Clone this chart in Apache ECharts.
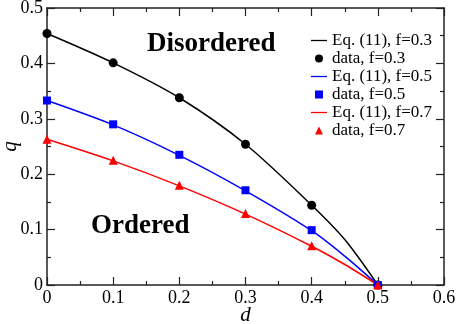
<!DOCTYPE html>
<html>
<head>
<meta charset="utf-8">
<script src="https://cdn.jsdelivr.net/npm/echarts@6/dist/echarts.min.js"></script>
<style>html,body{margin:0;padding:0;background:#fff}#c{width:457px;height:324px}</style>
</head>
<body>
<div id="c"></div>
<script>
// x ticks / y ticks
const xTicks = [0, 0.1, 0.2, 0.3, 0.4, 0.5, 0.6];
const yTicks = [0, 0.1, 0.2, 0.3, 0.4, 0.5];
// data points (d values)
const dData = [0, 0.1, 0.2, 0.3, 0.4, 0.5];
const qData03 = [0.454, 0.401, 0.338, 0.254, 0.144, 0];
const qData05 = [0.333, 0.290, 0.235, 0.171, 0.099, 0];
const qData07 = [0.263, 0.225, 0.180, 0.129, 0.071, 0];
// Eq. (11) curves
const dCurve = [0, 0.1, 0.2, 0.3, 0.4, 0.45, 0.5];
const qCurve03 = [0.454, 0.401, 0.338, 0.254, 0.144, 0.082, 0];
const qCurve05 = [0.333, 0.289, 0.234, 0.170, 0.098, 0.052, 0];
const qCurve07 = [0.263, 0.224, 0.179, 0.128, 0.070, 0.037, 0];
const names = ['Eq. (11), f=0.3', 'data, f=0.3', 'Eq. (11), f=0.5', 'data, f=0.5', 'Eq. (11), f=0.7', 'data, f=0.7'];
const colors = ['#000000', '#000000', '#0000ff', '#0000ff', '#ff0000', '#ff0000'];

const pair = (xs, ys) => xs.map((x, i) => [x, ys[i]]);
const serif = '"Liberation Serif", "DejaVu Serif", serif';

function axisCommon(show, pos) {
  return {
    position: pos,
    axisLine: { show: true, onZero: false, lineStyle: { color: '#222', width: 1.5 } },
    axisTick: { show: true, inside: true, length: 8, lineStyle: { color: '#222', width: 1.2 } },
    minorTick: { show: true, splitNumber: 2, length: 4, lineStyle: { color: '#222', width: 1.2 } },
    splitLine: { show: false },
    axisLabel: { show: show, color: '#000', fontFamily: serif, fontSize: 18, margin: 4 }
  };
}

const chart = echarts.init(document.getElementById('c'));
const lineSeries = (name, xs, ys, color) => ({
  name, type: 'line', data: pair(xs, ys), smooth: 0.3, showSymbol: false,
  lineStyle: { color, width: 1.5 }, itemStyle: { color }, xAxisIndex: 0, yAxisIndex: 0, z: 2
});
const dotSeries = (name, xs, ys, color, symbol, size) => ({
  name, type: 'scatter', data: pair(xs, ys), symbol, symbolSize: size,
  itemStyle: { color, opacity: 1 }, xAxisIndex: 0, yAxisIndex: 0, z: 3
});

chart.setOption({
  animation: false,
  backgroundColor: '#fff',
  grid: { left: 47, right: 13, top: 8, bottom: 39, containLabel: false, outerBoundsMode: 'none' },
  xAxis: [
    Object.assign(axisCommon(true, 'bottom'), {
      type: 'value', min: xTicks[0], max: xTicks[xTicks.length - 1], interval: 0.1,
      name: 'd', nameLocation: 'middle', nameGap: 20, nameMoveOverlap: false,
      nameTextStyle: { fontFamily: serif, fontStyle: 'italic', fontSize: 21, color: '#000' }
    }),
    Object.assign(axisCommon(false, 'top'), {
      type: 'value', min: xTicks[0], max: xTicks[xTicks.length - 1], interval: 0.1
    })
  ],
  yAxis: [
    Object.assign(axisCommon(true, 'left'), {
      type: 'value', min: yTicks[0], max: yTicks[yTicks.length - 1], interval: 0.1,
      name: 'q', nameLocation: 'middle', nameGap: 26, nameRotate: 90, nameMoveOverlap: false,
      nameTextStyle: { fontFamily: serif, fontStyle: 'italic', fontSize: 21, color: '#000' }
    }),
    Object.assign(axisCommon(false, 'right'), {
      type: 'value', min: yTicks[0], max: yTicks[yTicks.length - 1], interval: 0.1
    })
  ],
  legend: {
    orient: 'vertical', left: 306, top: 27, itemWidth: 16, itemHeight: 8, itemGap: 1,
    textStyle: { fontFamily: serif, fontSize: 17, color: '#000', lineHeight: 16.6 },
    data: [
      { name: names[0], icon: 'path://M0,0H20V1.6H0Z' },
      { name: names[1], icon: 'circle' },
      { name: names[2], icon: 'path://M0,0H20V1.6H0Z' },
      { name: names[3], icon: 'path://M0,0H1V1H0Z' },
      { name: names[4], icon: 'path://M0,0H20V1.6H0Z' },
      { name: names[5], icon: 'path://M0.5,0L1,1H0Z' }
    ]
  },
  graphic: [
    { type: 'text', left: 147, top: 31, style: { text: 'Disordered', font: 'bold 27px ' + serif, fill: '#000' } },
    { type: 'text', left: 91, top: 213, style: { text: 'Ordered', font: 'bold 27px ' + serif, fill: '#000' } }
  ],
  series: [
    lineSeries(names[0], dCurve, qCurve03, colors[0]),
    dotSeries(names[1], dData, qData03, colors[1], 'circle', 9),
    lineSeries(names[2], dCurve, qCurve05, colors[2]),
    dotSeries(names[3], dData, qData05, colors[3], 'rect', 8),
    lineSeries(names[4], dCurve, qCurve07, colors[4]),
    dotSeries(names[5], dData, qData07, colors[5], 'triangle', 9)
  ]
});
</script>
</body>
</html>
